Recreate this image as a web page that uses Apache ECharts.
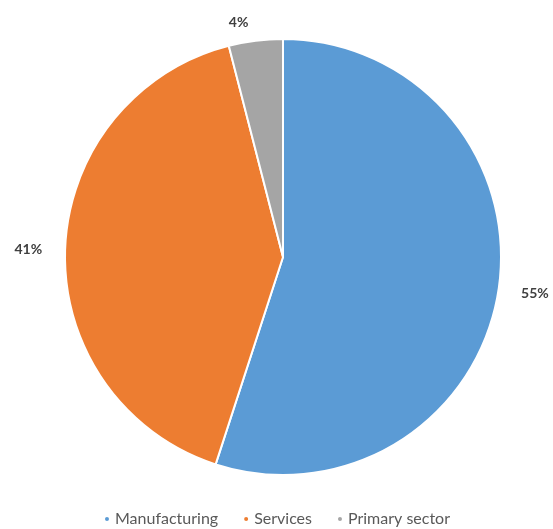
<!DOCTYPE html>
<html><head><meta charset="utf-8">
<script src="https://cdn.jsdelivr.net/npm/echarts@6/dist/echarts.min.js"></script>
<style>html,body{margin:0;padding:0;background:#fff;}#c{width:553px;height:529px;}</style>
</head><body><div id="c"></div>
<script>
const categories = ['Manufacturing', 'Services', 'Primary sector'];
const values = [55, 41, 4];
const colors = ['#5B9BD5', '#ED7D31', '#A5A5A5'];

const chart = echarts.init(document.getElementById('c'));
chart.setOption({
  animation: false,
  color: colors,
  legend: {
    data: categories,
    top: 506,
    left: 'center',
    icon: 'circle',
    itemWidth: 6,
    itemHeight: 6,
    itemGap: 24,
    textStyle: { fontFamily: 'Lato', fontSize: 16, color: '#595959' }
  },
  series: [{
    type: 'pie',
    center: [283, 257],
    radius: 218,
    startAngle: 90,
    clockwise: true,
    data: categories.map((c, i) => ({ name: c, value: values[i] })),
    itemStyle: { borderColor: '#fff', borderWidth: 2 },
    label: {
      show: true,
      position: 'outside',
      overflow: 'none',
      formatter: p => p.value + '%',
      fontFamily: 'Lato',
      fontSize: 14,
      fontWeight: 'bold',
      color: '#404040'
    },
    labelLine: { show: false, length: 18, length2: 0 }
  }]
});
</script></body></html>
